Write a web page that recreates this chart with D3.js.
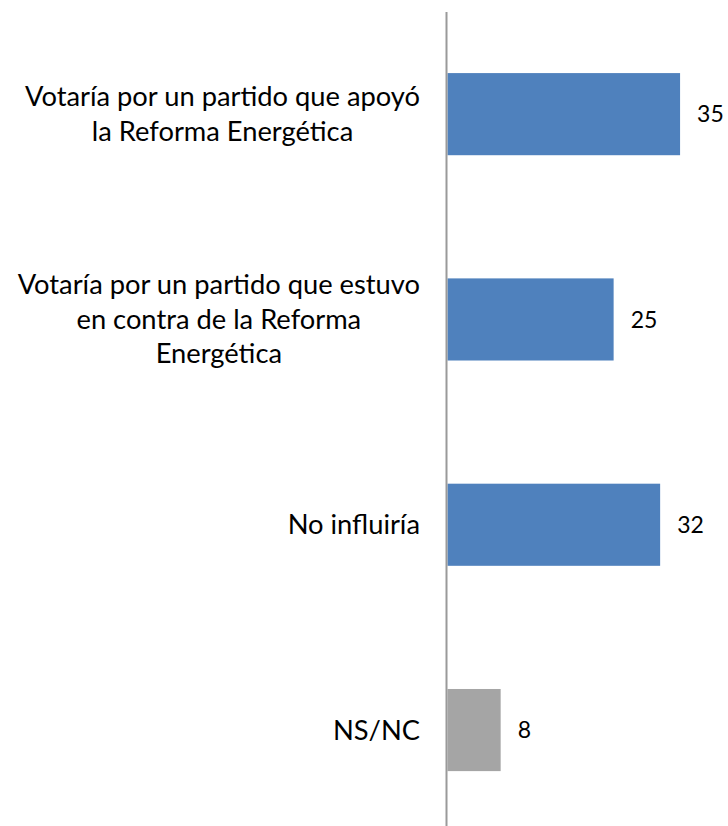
<!DOCTYPE html>
<html>
<head>
<meta charset="utf-8">
<script src="https://cdn.jsdelivr.net/npm/d3@7"></script>
<style>
  body { margin: 0; background: #fff; }
  .catLabel { font-family: Lato, "Open Sans", sans-serif; font-size: 27.3px; fill: #000; }
  .valLabel { font-family: Lato, "Open Sans", sans-serif; font-size: 23px; fill: #000; }
</style>
</head>
<body>
<div class="chart"></div>
<script>
// Horizontal bar chart - voting intention vs Reforma Energética

var categories = [
    ["Votaría por un partido que apoyó", "la Reforma Energética"],
    ["Votaría por un partido que estuvo", "en contra de la Reforma", "Energética"],
    ["No influiría"],
    ["NS/NC"]
];
var values = [35, 25, 32, 8];
var barColors = ["#4f81bd", "#4f81bd", "#4f81bd", "#a5a5a5"];

var svgWidth = 728;
var svgHeight = 826;

var svg = d3.select(".chart")
    .append("svg")
    .attr("width", svgWidth)
    .attr("height", svgHeight);

var index = d3.range(values.length);

var yBandScale = d3.scaleBand()
    .domain(index)
    .range([11.5, 832.7])
    .paddingInner(0.6)
    .paddingOuter(0.3);

var xLinearScale = d3.scaleLinear()
    .domain([0, 40])
    .range([447.5, 713.3]);

// bars
svg.selectAll("rect.bar")
    .data(index)
    .enter()
    .append("rect")
    .attr("class", "bar")
    .attr("x", xLinearScale(0))
    .attr("y", function(i) { return yBandScale(i); })
    .attr("width", function(i) { return xLinearScale(values[i]) - xLinearScale(0); })
    .attr("height", yBandScale.bandwidth())
    .attr("fill", function(i) { return barColors[i]; });

// vertical axis line
svg.append("line")
    .attr("x1", 446.5)
    .attr("x2", 446.5)
    .attr("y1", 12)
    .attr("y2", svgHeight)
    .attr("stroke", "#9a9a9a")
    .attr("stroke-width", 2);

// value labels
svg.selectAll("text.valLabel")
    .data(index)
    .enter()
    .append("text")
    .attr("class", "valLabel")
    .attr("x", function(i) { return xLinearScale(values[i]) + 17; })
    .attr("y", function(i) { return yBandScale(i) + yBandScale.bandwidth() / 2; })
    .attr("dy", "0.36em")
    .text(function(i) { return values[i]; });

// category labels, lines centered, block right edge near the axis
var lineHeight = 34.5;
var capHeight = 19;
var rightEdge = 420;

index.forEach(function(i) {
    var lines = categories[i];
    var g = svg.append("g");
    var texts = lines.map(function(line) {
        return g.append("text").attr("class", "catLabel").attr("text-anchor", "middle").text(line);
    });
    var maxW = d3.max(texts, function(t) { return t.node().getComputedTextLength(); });
    var cx = rightEdge - maxW / 2;
    var center = yBandScale(i) + yBandScale.bandwidth() / 2;
    var blockH = (lines.length - 1) * lineHeight + capHeight;
    var firstBase = center - blockH / 2 + capHeight;
    texts.forEach(function(t, k) {
        t.attr("x", cx).attr("y", firstBase + k * lineHeight);
    });
});
</script>
</body>
</html>
